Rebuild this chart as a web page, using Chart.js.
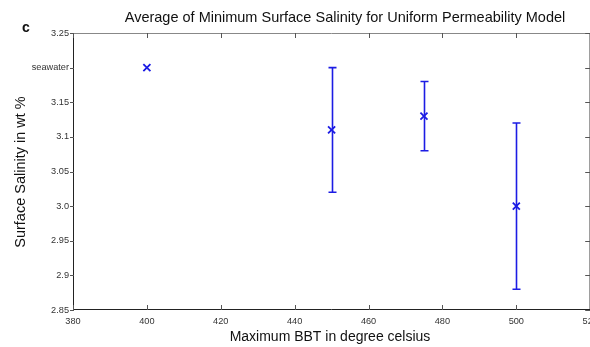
<!DOCTYPE html>
<html>
<head>
<meta charset="utf-8">
<script src="https://cdn.jsdelivr.net/npm/chart.js@4"></script>
<style>
  html, body { margin: 0; padding: 0; background: #fff; overflow: hidden; }
  #wrap { width: 597px; height: 347px; position: relative; }
</style>
</head>
<body>
<div id="wrap"><canvas id="c"></canvas></div>
<script>
// Maximum BBT (deg C) and the average minimum surface salinity (wt %)
const bbt = [400, 450, 475, 500];
const salinity = [3.20, 3.11, 3.13, 3.00];
// Spread of the minimum salinity (null where no range was reported)
const salinityLow = [null, 3.02, 3.08, 2.88];
const salinityHigh = [null, 3.20, 3.18, 3.12];

// Axis ticks
const xTicks = [380, 400, 420, 440, 460, 480, 500, 520];
const yTicks = [2.85, 2.90, 2.95, 3.00, 3.05, 3.10, 3.15, 3.20, 3.25];
const yTickLabels = ['2.85', '2.9', '2.95', '3.0', '3.05', '3.1', '3.15', 'seawater', '3.25'];

const BLUE = 'rgb(28,28,228)';
const TICK_FONT = "9.2px 'Liberation Sans', Arial, sans-serif";
const FONT_FAMILY = "'Liberation Sans', Arial, sans-serif";

const points = bbt.map((x, i) => ({ x, y: salinity[i], lo: salinityLow[i], hi: salinityHigh[i] }));

// Error bars, framed axes with inward ticks, tick labels and titles
const framePlugin = {
  id: 'frame',
  afterDatasetsDraw(chart) {
    const ctx = chart.ctx;
    const ys = chart.scales.y;
    ctx.save();
    ctx.strokeStyle = BLUE;
    ctx.lineWidth = 1.6;
    const meta = chart.getDatasetMeta(0);
    points.forEach((p, i) => {
      if (p.lo == null) return;
      const px = Math.round(meta.data[i].x) + 0.5;
      const yl = ys.getPixelForValue(p.lo), yh = ys.getPixelForValue(p.hi);
      ctx.beginPath();
      ctx.moveTo(px, yl); ctx.lineTo(px, yh);
      ctx.moveTo(px - 4, yl); ctx.lineTo(px + 4, yl);
      ctx.moveTo(px - 4, yh); ctx.lineTo(px + 4, yh);
      ctx.stroke();
    });
    ctx.restore();
  },
  afterDraw(chart) {
    const ctx = chart.ctx;
    const a = chart.chartArea;
    const xs = chart.scales.x, ys = chart.scales.y;
    ctx.save();
    // frame
    ctx.lineWidth = 1;
    ctx.strokeStyle = '#888';
    ctx.beginPath();
    ctx.moveTo(a.left, a.top + 0.5); ctx.lineTo(a.right, a.top + 0.5);
    ctx.moveTo(a.right - 0.5, a.top); ctx.lineTo(a.right - 0.5, a.bottom);
    ctx.stroke();
    ctx.strokeStyle = '#222';
    ctx.beginPath();
    ctx.moveTo(a.left + 0.5, a.top); ctx.lineTo(a.left + 0.5, a.bottom);
    ctx.moveTo(a.left, a.bottom - 0.5); ctx.lineTo(a.right, a.bottom - 0.5);
    ctx.stroke();
    // x ticks (inward, bottom and top)
    ctx.strokeStyle = '#555';
    ctx.beginPath();
    xTicks.forEach(v => {
      const px = Math.round(xs.getPixelForValue(v)) + 0.5;
      ctx.moveTo(px, a.bottom); ctx.lineTo(px, a.bottom - 5);
      ctx.moveTo(px, a.top); ctx.lineTo(px, a.top + 5);
    });
    // y ticks (left outward stub, right inward)
    yTicks.forEach(v => {
      const py = Math.round(ys.getPixelForValue(v)) + 0.5;
      ctx.moveTo(a.left - 3, py); ctx.lineTo(a.left + 1, py);
      ctx.moveTo(a.right, py); ctx.lineTo(a.right - 5, py);
    });
    ctx.stroke();
    // tick labels
    ctx.fillStyle = '#333';
    ctx.font = TICK_FONT;
    ctx.textAlign = 'center';
    ctx.textBaseline = 'middle';
    xTicks.forEach(v => ctx.fillText(String(v), xs.getPixelForValue(v), a.bottom + 11));
    ctx.textAlign = 'right';
    yTicks.forEach((v, i) => ctx.fillText(yTickLabels[i], a.left - 4, ys.getPixelForValue(v)));
    // titles
    ctx.fillStyle = '#111';
    ctx.textAlign = 'center';
    ctx.font = '14.5px ' + FONT_FAMILY;
    ctx.fillText('Average of Minimum Surface Salinity for Uniform Permeability Model', 345, 18);
    ctx.font = '14px ' + FONT_FAMILY;
    ctx.fillText('Maximum BBT in degree celsius', 330, 337);
    ctx.save();
    ctx.translate(21, 172);
    ctx.rotate(-Math.PI / 2);
    ctx.font = '14.5px ' + FONT_FAMILY;
    ctx.fillText('Surface Salinity in wt %', 0, 0);
    ctx.restore();
    ctx.font = 'bold 14px ' + FONT_FAMILY;
    ctx.textAlign = 'left';
    ctx.fillText('c', 22, 28);
    ctx.restore();
  }
};

new Chart(document.getElementById('c'), {
  type: 'scatter',
  data: {
    datasets: [{
      data: points,
      pointStyle: 'crossRot',
      pointRadius: 5,
      pointHoverRadius: 5,
      borderColor: BLUE,
      backgroundColor: BLUE,
      pointBorderWidth: 1.8,
      showLine: false
    }]
  },
  options: {
    responsive: true,
    maintainAspectRatio: false,
    animation: false,
    events: [],
    layout: { padding: { top: 33, left: 0, right: 0, bottom: 0 } },
    plugins: { legend: { display: false }, tooltip: { enabled: false }, title: { display: false } },
    scales: {
      x: {
        type: 'linear', min: 380, max: 520,
        grid: { display: false }, border: { display: false },
        ticks: { display: false },
        afterBuildTicks: s => { s.ticks = xTicks.map(v => ({ value: v })); },
        afterFit: s => { s.height = 37; }
      },
      y: {
        type: 'linear', min: 2.85, max: 3.25,
        grid: { display: false }, border: { display: false },
        ticks: { display: false },
        afterBuildTicks: s => { s.ticks = yTicks.map(v => ({ value: v })); },
        afterFit: s => { s.width = 73; }
      }
    }
  },
  plugins: [framePlugin]
});
</script>
</body>
</html>
